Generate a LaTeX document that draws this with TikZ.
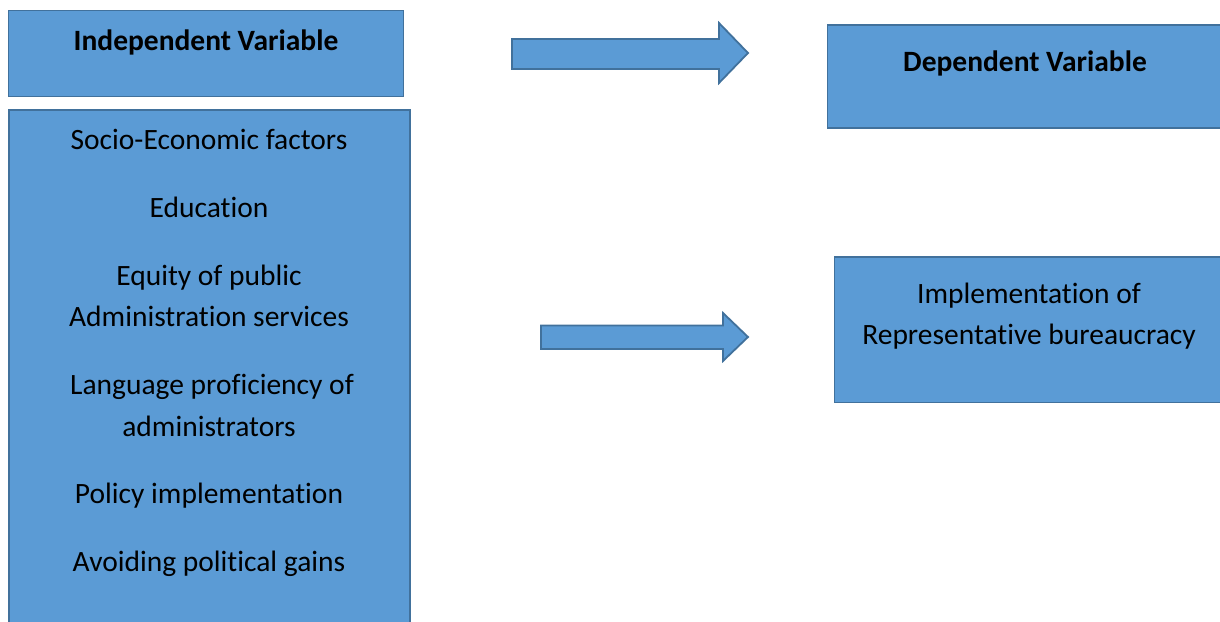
\documentclass[tikz,border=0pt]{standalone}
\usepackage{fontspec}
\setmainfont{Carlito}[Ligatures=NoCommon]
\definecolor{boxfill}{HTML}{5B9BD5}
\definecolor{boxline}{HTML}{41719C}
\begin{document}
\begin{tikzpicture}[x=1pt,y=-1pt,
  box/.style={draw=boxline,fill=boxfill,line width=1.8pt,anchor=north west,inner sep=0pt,outer sep=0pt},
  blockarrow/.style={draw=boxline,fill=boxfill,line width=1.8pt,line join=miter},
  lbl/.style={anchor=base,font=\fontsize{29.5}{34}\selectfont,text=black,inner sep=0pt},
  hlbl/.style={lbl,font=\fontsize{29.5}{34}\selectfont\bfseries}]
\useasboundingbox (0,0) rectangle (1220,621);
\path[clip] (0,0) rectangle (1220,621);
% boxes
\node[box,minimum width=395pt,minimum height=86pt] (iv) at (8.5,10.5) {};
\node[box,minimum width=401pt,minimum height=530pt] (list) at (9,110) {};
\node[box,minimum width=410pt,minimum height=103pt] (dv) at (827.5,25) {};
\node[box,minimum width=400pt,minimum height=145.5pt] (impl) at (834.5,257) {};
% block arrows
\draw[blockarrow] (512,39) -- (719,39) -- (719,23) -- (748,53) -- (719,83) -- (719,69) -- (512,69) -- cycle;
\draw[blockarrow] (541,325.5) -- (723,325.5) -- (723,313) -- (748,337) -- (723,361) -- (723,349) -- (541,349) -- cycle;
% labels
\node[hlbl] (ivt) at (206,50) {Independent Variable};
\node[hlbl] (dvt) at (1025,71) {Dependent Variable};
\node[lbl] (l1) at (209,149) {Socio-Economic factors};
\node[lbl] (l2) at (209,217) {Education};
\node[lbl] (l3a) at (209,285) {Equity of public};
\node[lbl] (l3b) at (209,326) {Administration services};
\node[lbl] (l4a) at (212,394) {Language proficiency of};
\node[lbl] (l4b) at (209,436) {administrators};
\node[lbl] (l5) at (209,503) {Policy implementation};
\node[lbl] (l6) at (209,571) {Avoiding political gains};
\node[lbl] (i1) at (1029,303) {Implementation of};
\node[lbl] (i2) at (1029,344) {Representative bureaucracy};
\end{tikzpicture}
\end{document}
